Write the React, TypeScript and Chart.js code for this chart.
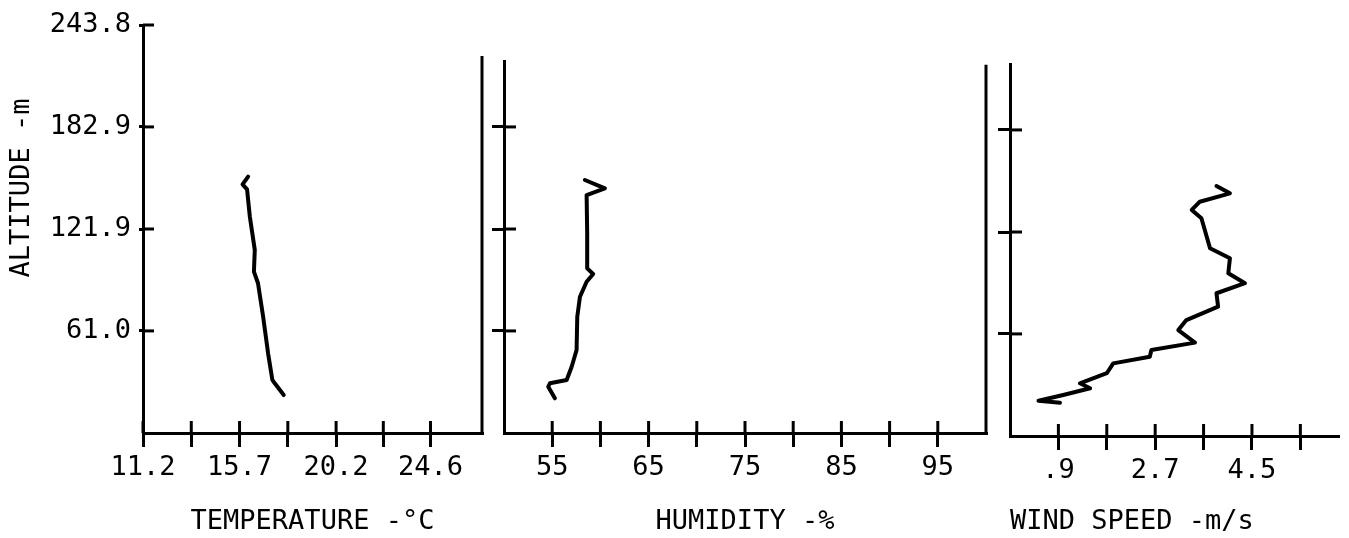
import React, { useEffect, useRef } from "react";
import { Chart, registerables } from "chart.js";

Chart.register(...registerables);

const FONT_FAMILY = "'DejaVu Sans Mono', 'Liberation Mono', monospace";
const FONT_SIZE = 27;

// ---- axis ticks / labels ----
const altitudeTickValues = [61.0, 121.9, 182.9, 243.8];
const altitudeTickLabels = ["61.0", "121.9", "182.9", "243.8"];
const altitudeTitle = "ALTITUDE -m";

const tempTickValues = [11.2, 13.45, 15.7, 17.95, 20.2, 22.4, 24.6];
const tempTickLabels = ["11.2", "", "15.7", "", "20.2", "", "24.6"];
const tempTitle = "TEMPERATURE -°C";

const humidityTickValues = [55, 60, 65, 70, 75, 80, 85, 90, 95];
const humidityTickLabels = ["55", "", "65", "", "75", "", "85", "", "95"];
const humidityTitle = "HUMIDITY -%";

const windTickValues = [0.9, 1.8, 2.7, 3.6, 4.5, 5.4];
const windTickLabels = [".9", "", "2.7", "", "4.5", ""];
const windTitle = "WIND SPEED -m/s";

// ---- series ----
const temperatureC = [16.1, 15.84, 16.05, 16.18, 16.41, 16.37, 16.56, 16.8, 17.03, 17.23, 17.34, 17.76];
const temperatureAlt = [153.2, 148.6, 145.6, 129.2, 109.4, 96.4, 89.5, 69.5, 47.6, 31.7, 29.7, 22.7];

const humidityPct = [58.39, 60.47, 58.57, 58.63, 58.63, 59.25, 58.57, 57.88, 57.6, 57.53, 57.02, 56.5, 54.77, 54.59, 55.28];
const humidityAlt = [151.2, 146.2, 142.2, 119.3, 98.4, 95.0, 90.4, 81.4, 69.5, 49.6, 39.6, 31.7, 29.7, 27.7, 20.7];

const windMs = [3.84, 4.09, 3.53, 3.38, 3.56, 3.72, 4.09, 4.06, 4.37, 3.84, 3.87, 3.28, 3.13, 3.44, 2.63, 2.6, 1.92, 1.8, 1.3, 1.49, 0.99, 0.53, 0.93];
const windAlt = [149.4, 145.0, 140.0, 135.1, 130.1, 112.2, 106.2, 97.2, 91.3, 85.3, 77.3, 69.3, 63.3, 55.8, 51.4, 47.4, 43.4, 37.5, 31.5, 28.5, 24.5, 21.1, 19.9];

const INK = "#000";

// draws the inner half of the crossing tick marks
const crossTicksPlugin = {
  id: "crossTicks",
  afterDraw(chart: any, _args: any, opts: any) {
    const ctx = chart.ctx;
    ctx.save();
    ctx.strokeStyle = INK;
    ctx.lineWidth = 3;
    const xs = chart.scales.x;
    for (const t of xs.ticks) {
      const px = xs.getPixelForValue(t.value);
      ctx.beginPath();
      ctx.moveTo(px, xs.top);
      ctx.lineTo(px, xs.top - opts.x);
      ctx.stroke();
    }
    const ys = chart.scales.y;
    for (const t of ys.ticks) {
      const py = ys.getPixelForValue(t.value);
      ctx.beginPath();
      ctx.moveTo(ys.right, py);
      ctx.lineTo(ys.right + opts.y, py);
      ctx.stroke();
    }
    ctx.restore();
  },
};

// right-hand frame line of a panel
const frameLinePlugin = {
  id: "frameLine",
  afterDraw(chart: any, _args: any, opts: any) {
    if (opts.top == null) return;
    const ctx = chart.ctx;
    const ys = chart.scales.y;
    const x = chart.chartArea.right;
    ctx.save();
    ctx.strokeStyle = INK;
    ctx.lineWidth = 3;
    ctx.beginPath();
    ctx.moveTo(x, ys.getPixelForValue(0) + 1.5);
    ctx.lineTo(x, ys.getPixelForValue(opts.top));
    ctx.stroke();
    ctx.restore();
  },
};

// rotated altitude title on the first panel
const sideTitlePlugin = {
  id: "sideTitle",
  afterDraw(chart: any, _args: any, opts: any) {
    if (!opts.text) return;
    const ctx = chart.ctx;
    ctx.save();
    ctx.fillStyle = INK;
    ctx.font = `${FONT_SIZE}px ${FONT_FAMILY}`;
    ctx.translate(opts.x, opts.y);
    ctx.rotate(-Math.PI / 2);
    ctx.textAlign = "center";
    ctx.textBaseline = "middle";
    ctx.fillText(opts.text, 0, 0);
    ctx.restore();
  },
};

type Panel = {
  left: number;
  width: number;
  xs: number[];
  ys: number[];
  xMin: number;
  xMax: number;
  xTicks: number[];
  xLabels: string[];
  xTitle: string;
  xTitleAlign: "start" | "center" | "end";
  yMax: number;
  yTicks: number[];
  yLabels: string[] | null;
  yWidth: number;
  yOut: number;
  yIn: number;
  xAxisHeight: number;
  padTop: number;
  padRight: number;
  frameTop: number | null;
  sideTitle: string | null;
};

function buildConfig(p: Panel): any {
  const font = { family: FONT_FAMILY, size: FONT_SIZE };
  return {
    type: "scatter",
    data: {
      datasets: [
        {
          data: p.xs.map((x, i) => ({ x, y: p.ys[i] })),
          showLine: true,
          borderColor: INK,
          borderWidth: 4,
          pointRadius: 0,
          borderJoinStyle: "round",
          borderCapStyle: "round",
          tension: 0,
        },
      ],
    },
    options: {
      responsive: false,
      animation: false,
      events: [],
      layout: { padding: { top: p.padTop, right: p.padRight, left: 0, bottom: 0 } },
      plugins: {
        legend: { display: false },
        tooltip: { enabled: false },
        crossTicks: { x: 12, y: p.yIn },
        frameLine: { top: p.frameTop },
        sideTitle: { text: p.sideTitle, x: 22, y: 188 },
      },
      scales: {
        x: {
          type: "linear",
          position: "bottom",
          min: p.xMin,
          max: p.xMax,
          afterBuildTicks: (s: any) => {
            s.ticks = p.xTicks.map((v) => ({ value: v }));
          },
          afterFit: (s: any) => {
            s.height = p.xAxisHeight;
          },
          ticks: {
            autoSkip: false,
            maxRotation: 0,
            minRotation: 0,
            color: INK,
            font,
            padding: 5,
            callback: (_v: any, i: number) => p.xLabels[i],
          },
          grid: { drawOnChartArea: false, drawTicks: true, tickLength: 14, lineWidth: 3, color: INK },
          border: { display: true, width: 3, color: INK },
          title: {
            display: true,
            text: p.xTitle,
            color: INK,
            font,
            align: p.xTitleAlign,
            padding: { top: 0, bottom: 0 },
          },
        },
        y: {
          type: "linear",
          position: "left",
          min: 0,
          max: p.yMax,
          afterBuildTicks: (s: any) => {
            s.ticks = p.yTicks.map((v) => ({ value: v }));
          },
          afterFit: (s: any) => {
            s.width = p.yWidth;
          },
          ticks: {
            display: !!p.yLabels,
            color: INK,
            font,
            padding: 8,
            callback: (_v: any, i: number) => (p.yLabels ? p.yLabels[i] : ""),
          },
          grid: { drawOnChartArea: false, drawTicks: true, tickLength: p.yOut, lineWidth: 3, color: INK },
          border: { display: true, width: 3, color: INK },
        },
      },
    },
    plugins: [crossTicksPlugin, frameLinePlugin, sideTitlePlugin],
  };
}

const panels: Panel[] = [
  {
    left: 0,
    width: 490,
    xs: temperatureC,
    ys: temperatureAlt,
    xMin: 11.2,
    xMax: 27.0,
    xTicks: tempTickValues,
    xLabels: tempTickLabels,
    xTitle: tempTitle,
    xTitleAlign: "center",
    yMax: 243.8,
    yTicks: altitudeTickValues,
    yLabels: altitudeTickLabels,
    yWidth: 143,
    yOut: 4,
    yIn: 11,
    xAxisHeight: 105,
    padTop: 25,
    padRight: 8,
    frameTop: 225.3,
    sideTitle: altitudeTitle,
  },
  {
    left: 490,
    width: 508,
    xs: humidityPct,
    ys: humidityAlt,
    xMin: 50,
    xMax: 100,
    xTicks: humidityTickValues,
    xLabels: humidityTickLabels,
    xTitle: humidityTitle,
    xTitleAlign: "center",
    yMax: 222.3,
    yTicks: altitudeTickValues.slice(0, 3),
    yLabels: null,
    yWidth: 14,
    yOut: 12,
    yIn: 12,
    xAxisHeight: 105,
    padTop: 61,
    padRight: 12,
    frameTop: 220,
    sideTitle: null,
  },
  {
    left: 998,
    width: 351,
    xs: windMs,
    ys: windAlt,
    xMin: 0,
    xMax: 6.1,
    xTicks: windTickValues,
    xLabels: windTickLabels,
    xTitle: windTitle,
    xTitleAlign: "start",
    yMax: 222.3,
    yTicks: altitudeTickValues.slice(0, 3),
    yLabels: null,
    yWidth: 12,
    yOut: 12,
    yIn: 12,
    xAxisHeight: 102,
    padTop: 64,
    padRight: 11,
    frameTop: null,
    sideTitle: null,
  },
];

function PanelChart({ panel }: { panel: Panel }) {
  const ref = useRef<HTMLCanvasElement | null>(null);
  useEffect(() => {
    if (!ref.current) return;
    const chart = new Chart(ref.current, buildConfig(panel));
    return () => chart.destroy();
  }, [panel]);
  return (
    <canvas
      ref={ref}
      width={panel.width}
      height={538}
      style={{ position: "absolute", left: panel.left, top: 0, width: panel.width, height: 538, display: "block" }}
    />
  );
}

export default function App() {
  return (
    <div style={{ position: "absolute", left: 0, top: 0, width: 1349, height: 538, background: "#fff" }}>
      {panels.map((p, i) => (
        <PanelChart key={i} panel={p} />
      ))}
    </div>
  );
}
